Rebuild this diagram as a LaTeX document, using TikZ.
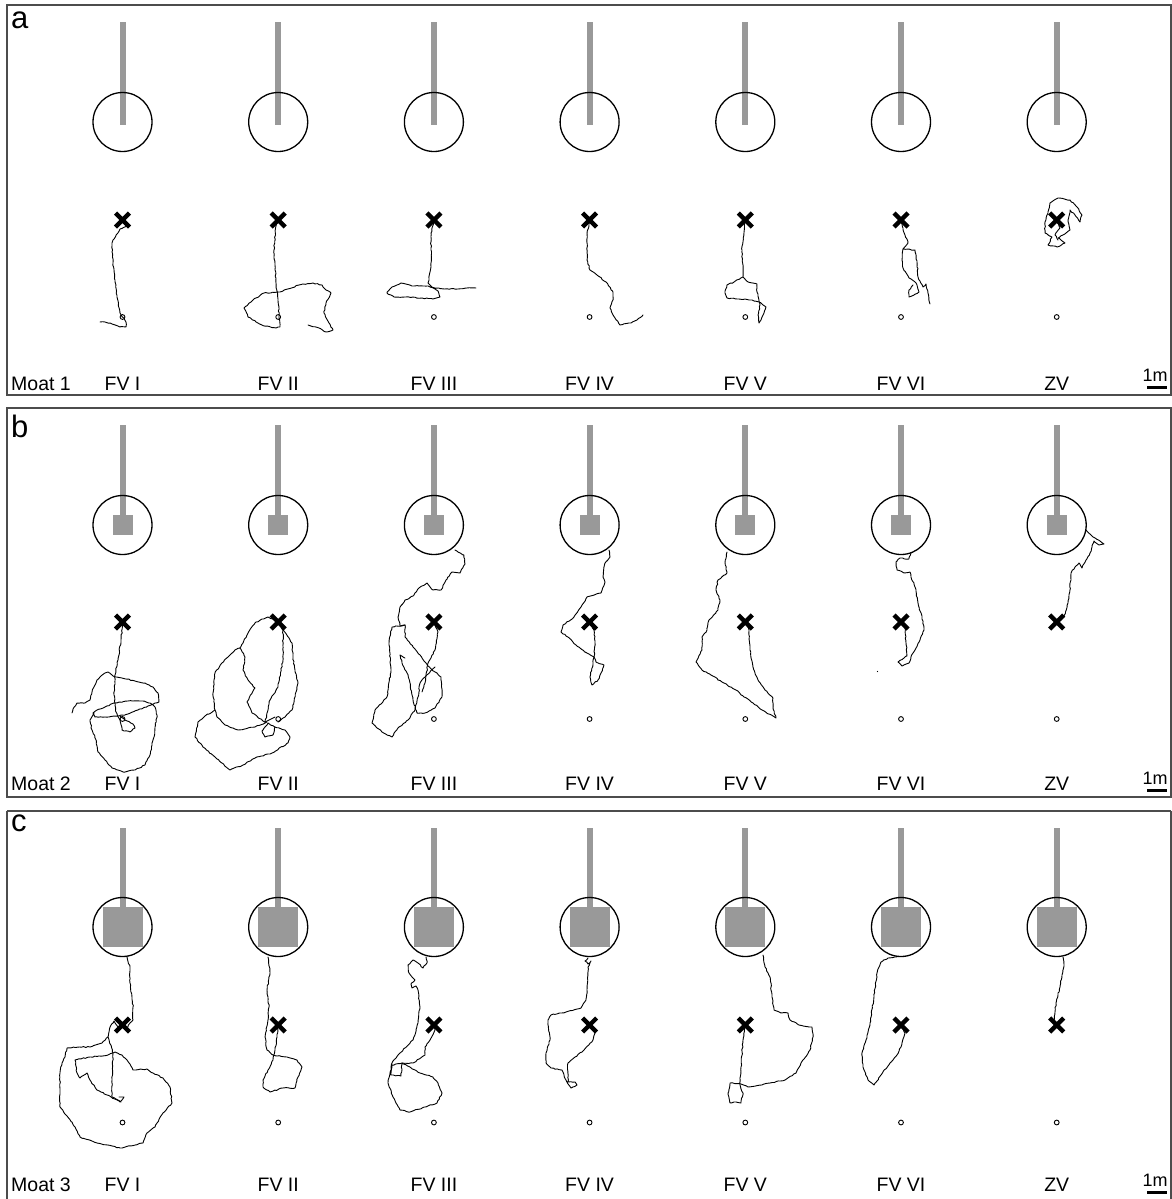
\documentclass[tikz,border=0pt]{standalone}
\usepackage{fontspec}
\setmainfont{Liberation Sans}
\usetikzlibrary{decorations.pathmorphing}
\tikzset{
  frame/.style={draw=black!70, line width=1.3pt},
  pole/.style={fill=black!40, draw=none},
  moat/.style={circle, draw=black, line width=1.3pt, minimum size=59pt, inner sep=0pt},
  track/.style={draw=black, line width=0.9pt, line join=round, line cap=round,
    decorate, decoration={random steps, segment length=2.2pt, amplitude=0.5pt}},
  startc/.style={circle, draw=black, line width=0.9pt, minimum size=4.8pt, inner sep=0pt},
  lab/.style={anchor=base, inner sep=0pt, font=\fontsize{19.5}{22}\selectfont},
  plab/.style={anchor=base west, inner sep=0pt, font=\fontsize{31}{33}\selectfont},
  slab/.style={anchor=base, inner sep=0pt, font=\fontsize{18}{20}\selectfont},
  xmk/.pic={\draw[line width=4.4pt] (-7,-7)--(7,7) (-7,7)--(7,-7);}
}
\begin{document}
\begin{tikzpicture}[x=1pt,y=-1pt]
\pgfmathsetseed{11}
\useasboundingbox (0,0) rectangle (1172,1199);
\fill[white] (0,0) rectangle (1172,1199);
% frames
\draw[frame] (7,5) rectangle (1171,395);
\draw[frame] (7,408) rectangle (1171,797);
\draw[frame] (7,811) -- (1171,811) (7,811) -- (7,1199) (1171,811) -- (1171,1199);
% panel letters
\node[plab] (pa) at (11,29) {a};
\node[plab] (pb) at (11,437) {b};
\node[plab] (pc) at (11,831) {c};
% columns
\foreach \cx/\nm [count=\i] in {122.5/FV I,278.2/FV II,433.9/FV III,589.6/FV IV,745.3/FV V,901/FV VI,1056.7/ZV}{
  % panel a
  \fill[pole] (\cx-3,22) rectangle (\cx+3,125);
  \node[moat] (ma\i) at (\cx,122) {};
  \pic at (\cx,220) {xmk};
  \node[startc] (sa\i) at (\cx,317) {};
  \node[lab] (la\i) at (\cx,390) {\nm};
  % panel b
  \fill[pole] (\cx-3,425) rectangle (\cx+3,516);
  \fill[pole] (\cx-10,515) rectangle (\cx+10,535);
  \node[moat] (mb\i) at (\cx,525) {};
  \pic at (\cx,622) {xmk};
  \node[startc] (sb\i) at (\cx,719) {};
  \node[lab] (lb\i) at (\cx,790) {\nm};
  % panel c
  \fill[pole] (\cx-3,828) rectangle (\cx+3,908);
  \fill[pole] (\cx-20,907) rectangle (\cx+20,947);
  \node[moat] (mc\i) at (\cx,927) {};
  \pic at (\cx,1025) {xmk};
  \node[startc] (sc\i) at (\cx,1122.5) {};
  \node[lab] (lc\i) at (\cx,1191) {\nm};
}
% moat labels
\node[lab, anchor=base west] (moat1) at (11,390) {Moat 1};
\node[lab, anchor=base west] (moat2) at (11,790) {Moat 2};
\node[lab, anchor=base west] (moat3) at (11,1191) {Moat 3};
% scale bars
\foreach \yy/\k in {381/a,784/b,1186/c}{
  \node[slab] (sl\k) at (1155,\yy) {1m};
  \fill[black] (1147,\yy+4.5) rectangle (1167,\yy+7.5);
}
% ===== panel a tracks =====
\draw[track] plot coordinates {(122.5,220) (128,226) (120,229) (113,240) (112,243) (113,263) (115,280) (117,297) (120,313) (126,322) (126,327) (120,327) (112,324) (105,322) (100,322)};
\draw[track] plot coordinates {(278,220) (276,226) (274,250) (276,283) (278,300) (280,327) (276,328) (262,325) (248,317) (244,308) (253,300) (264,293) (280,292) (299,285) (313,283) (322,285) (326,290) (331,293) (326,303) (324,313) (329,323) (333,330) (326,332) (319,328) (308,325)};
\draw[track] plot coordinates {(476,288) (467,288) (458,289) (445,289) (435,288) (428,286) (412,286) (401,283) (392,287) (387,293) (394,297) (406,297) (422,298) (433,299) (440,297) (438,291) (431,286) (428,283) (431,267) (431,250) (431,233) (434,222)};
\draw[track] plot coordinates {(590,220) (589,225) (587,233) (587,260) (590,270) (597,275) (606,282) (613,292) (613,300) (610,308) (615,318) (620,325) (631,323) (637,320) (643,315)};
\draw[track] plot coordinates {(745,220) (742,250) (743,277) (734,282) (727,285) (725,293) (727,298) (738,299) (752,300) (759,302) (766,307) (764,313) (761,320) (759,323) (758,315) (760,305) (757,292) (757,284) (748,282) (743,277)};
\draw[track] plot coordinates {(901,220) (903,228) (905,235) (908,243) (903,249) (915,250) (917,262) (918,277) (923,287) (926,284) (928,293) (930,304)};
\draw[track] plot coordinates {(903,249) (902,260) (903,268) (909,278) (916,283) (919,292) (914,295) (909,297) (909,290) (913,285)};
\draw[track] plot coordinates {(1048,212) (1050,203) (1058,198) (1070,200) (1077,207) (1082,215) (1080,222) (1075,215) (1070,210) (1068,220) (1070,230) (1063,235) (1058,238) (1065,243) (1057,247) (1048,245) (1052,237) (1045,233) (1045,222) (1048,212)};
\draw[track] plot coordinates {(1057,220) (1060,228) (1055,235) (1058,240)};
% ===== panel b tracks =====
\draw[track] plot coordinates {(72,713) (73,709) (77,703) (85,703) (90,700) (92,692) (97,680) (100,677) (105,673) (108,672) (113,676) (122,678) (135,681) (145,683) (153,687) (158,693) (159,702) (155,703) (148,706) (138,710) (128,714) (118,716) (105,717) (95,717) (93,713) (97,710) (105,707) (115,703) (128,701) (142,701) (150,703) (155,707) (157,715) (155,727) (154,737) (152,745) (150,755) (145,765) (135,770) (123,772) (112,768) (105,760) (98,752) (96,740) (92,730) (90,720) (94,713)};
\draw[track] plot coordinates {(123,622) (121,640) (118,660) (115,675) (114,695) (116,712) (120,720) (122,730) (130,732) (135,728) (133,724) (125,720) (120,716)};
\draw[track] plot coordinates {(281,626) (275,620) (268,617) (262,619) (255,623) (248,633) (243,643) (240,648) (235,650) (228,657) (222,663) (215,673) (213,693) (215,710) (205,716) (198,722) (195,737) (203,747) (215,757) (230,770) (243,765) (255,758) (272,753) (288,743) (290,737) (285,730) (275,727) (268,723) (262,731) (265,737) (273,735) (275,727)};
\draw[track] plot coordinates {(215,710) (217,717) (225,725) (238,730) (255,727) (267,722)};
\draw[track] plot coordinates {(240,648) (245,657) (243,670) (248,680) (255,688) (247,702) (252,713) (265,722) (275,717)};
\draw[track] plot coordinates {(281,627) (292,643) (293,657) (295,670) (298,683) (295,697) (292,710) (285,717) (278,722)};
\draw[track] plot coordinates {(283,630) (283,660) (278,687) (270,700) (267,713) (265,723)};
\draw[track] plot coordinates {(455,550) (464,555) (465,564) (460,573) (452,572) (446,580) (441,590) (433,590) (427,583) (419,588) (413,596) (405,600) (400,607) (398,617) (400,626) (405,625)};
\draw[track] plot coordinates {(405,625) (392,627) (389,643) (391,670) (387,697) (375,710) (372,723) (382,732) (392,737) (398,728) (408,720) (415,710) (418,697) (420,683) (425,677) (435,667)};
\draw[track] plot coordinates {(405,625) (405,637) (413,647) (420,655) (428,666) (441,677) (442,697) (435,708) (425,713) (417,713) (413,700) (410,683) (407,673) (402,663) (400,655) (405,658)};
\draw[track] plot coordinates {(434,623) (438,632) (435,650) (428,663) (425,683) (422,692)};
\draw[track] plot coordinates {(609,550) (610,557) (605,563) (603,577) (605,582) (601,593) (587,597) (581,607) (574,617) (563,625) (561,632) (568,637) (576,645) (587,653) (594,657) (593,664) (590,677) (592,685) (598,680) (601,673) (604,665) (596,662) (594,657)};
\draw[track] plot coordinates {(590,622) (594,630) (595,643) (594,657)};
\draw[track] plot coordinates {(727,552) (725,563) (727,573) (718,580) (716,590) (720,600) (718,610) (709,620) (707,630) (702,637) (702,650) (696,662) (702,670) (711,675) (722,682) (736,690) (744,697) (753,703) (762,710) (776,718) (773,708) (773,698) (765,690) (758,680) (753,667) (750,650) (749,630) (745,622)};
\draw[track] plot coordinates {(911,553) (909,559) (900,558) (896,562) (897,570) (904,573) (910,572) (911,577) (915,587) (918,603) (922,617) (924,630) (920,640) (915,650) (911,657) (909,663) (902,666) (898,662) (904,658) (907,656) (906,643) (905,628) (901,622)};
\fill[black] (877.5,671.5) circle (0.6);
\draw[track] plot coordinates {(1086,530) (1091,535) (1095,538) (1100,541) (1104,544) (1099,545) (1094,541) (1092,547) (1090,553) (1086,560) (1082,568) (1079,563) (1075,567) (1071,573) (1070,590) (1068,603) (1064,617) (1058,622)};
% ===== panel c tracks =====
\draw[track] plot coordinates {(127,957) (130,967) (130,983) (132,997) (133,1007) (133,1020) (130,1023) (127,1028) (118,1027) (114,1021) (110,1027) (108,1037) (102,1043) (90,1047) (80,1047) (67,1048) (65,1057) (62,1063) (60,1073) (60,1090) (60,1107) (67,1116) (72,1122) (80,1137) (97,1143) (120,1148) (143,1143) (147,1133) (155,1127) (163,1113) (172,1103) (170,1087) (163,1078) (153,1073) (147,1069) (133,1070) (127,1060) (122,1055) (115,1052) (108,1055) (90,1057) (75,1060) (77,1073) (80,1078) (87,1073) (90,1080) (97,1090) (107,1095) (120,1102) (124,1097) (119,1097)};
\draw[track] plot coordinates {(108,1037) (113,1053) (112,1080) (112,1097) (116,1099) (121,1102)};
\draw[track] plot coordinates {(268,957) (270,973) (267,990) (269,1007) (268,1020) (265,1037) (267,1050) (273,1055) (287,1057) (297,1060) (302,1067) (298,1077) (295,1088) (283,1088) (270,1092) (263,1087) (263,1080) (268,1070) (273,1060) (275,1050) (277,1037) (278,1025)};
\draw[track] plot coordinates {(426,957) (427,963) (423,968) (418,963) (413,960) (408,965) (409,973) (415,980) (411,984) (412,988) (416,986) (418,990) (420,1007) (418,1023) (413,1040) (400,1053) (392,1063) (390,1073) (388,1083) (393,1097) (400,1110) (410,1112) (422,1108) (437,1103) (442,1093) (438,1083) (433,1077) (420,1073) (410,1067) (402,1063) (392,1065) (391,1075) (401,1076) (402,1064)};
\draw[track] plot coordinates {(434,1025) (435,1030) (430,1040) (425,1047) (425,1055) (413,1063) (402,1063)};
\draw[track] plot coordinates {(588,958) (585,961) (588,964) (591,961) (588,967) (587,990) (586,1000) (581,1008) (566,1012) (551,1015) (548,1020) (550,1040) (546,1053) (546,1063) (551,1068) (562,1070) (566,1080) (571,1088) (577,1085) (575,1082) (568,1082) (568,1063) (575,1057) (584,1050) (593,1040) (595,1033) (591,1028)};
\draw[track] plot coordinates {(763,955) (765,967) (770,977) (772,997) (774,1010) (781,1013) (788,1013) (790,1020) (799,1025) (812,1027) (813,1037) (810,1050) (801,1063) (796,1073) (785,1080) (770,1083) (748,1087) (741,1084) (730,1083) (728,1093) (730,1103) (736,1102) (741,1103) (743,1093) (740,1085) (741,1067) (743,1040) (745,1025)};
\draw[track] plot coordinates {(897,957) (888,958) (881,962) (877,973) (874,997) (870,1023) (866,1040) (862,1053) (863,1067) (868,1080) (874,1085) (881,1075) (890,1063) (897,1055) (901,1047) (905,1033) (901,1025)};
\draw[track] plot coordinates {(1063,957) (1064,966) (1062,975) (1060,987) (1058,995) (1056,1003) (1055,1012) (1054,1020) (1056,1025)};
\end{tikzpicture}
\end{document}
